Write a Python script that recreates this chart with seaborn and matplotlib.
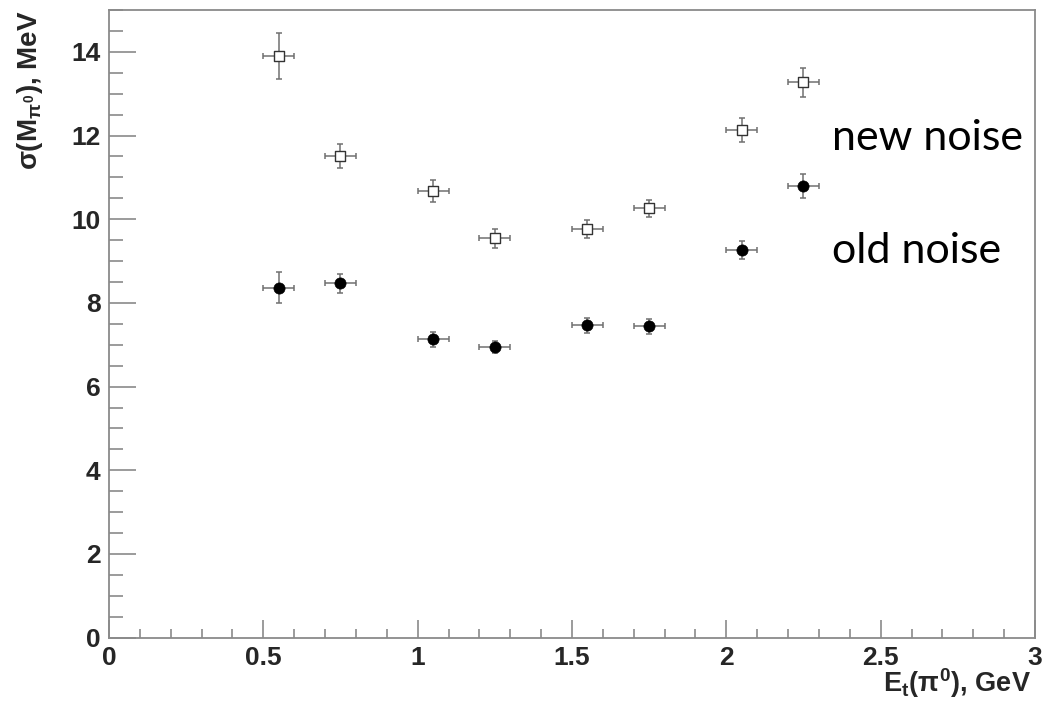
import numpy as np
import pandas as pd
import matplotlib
matplotlib.use("Agg")
import matplotlib.pyplot as plt
from matplotlib.ticker import MultipleLocator
import seaborn as sns

# Transverse energy bins of the pi0 (GeV) and half bin width
et_bins = [0.55, 0.75, 1.05, 1.25, 1.55, 1.75, 2.05, 2.25]
et_halfwidth = [0.05, 0.05, 0.05, 0.05, 0.05, 0.05, 0.05, 0.05]

# Mass resolution sigma(M_pi0) in MeV and its uncertainty
sigma_new = [13.90, 11.51, 10.68, 9.54, 9.76, 10.26, 12.13, 13.27]
sigma_new_err = [0.55, 0.29, 0.26, 0.22, 0.21, 0.21, 0.29, 0.34]
sigma_old = [8.36, 8.47, 7.13, 6.95, 7.47, 7.44, 9.26, 10.79]
sigma_old_err = [0.37, 0.23, 0.18, 0.15, 0.18, 0.18, 0.21, 0.28]

series_labels = ["new noise", "old noise"]
x_tick_labels = ["0", "0.5", "1", "1.5", "2", "2.5", "3"]
y_tick_labels = ["0", "2", "4", "6", "8", "10", "12", "14"]

sns.set_style("white")
plt.rcParams["font.family"] = ["Liberation Sans", "DejaVu Sans"]
plt.rcParams["mathtext.fontset"] = "custom"
plt.rcParams["mathtext.rm"] = "Liberation Sans:bold"
plt.rcParams["mathtext.it"] = "Liberation Sans:bold"
plt.rcParams["mathtext.bf"] = "Liberation Sans:bold"
plt.rcParams["mathtext.sf"] = "Liberation Sans:bold"

df_new = pd.DataFrame({"et": et_bins, "sigma": sigma_new})
df_old = pd.DataFrame({"et": et_bins, "sigma": sigma_old})

fig = plt.figure(figsize=(10.45, 7.04), dpi=100)
ax = fig.add_axes([0.1043, 0.0942, 0.8861, 0.8916])

bar_color = "#707070"
for yv, ye in ((sigma_new, sigma_new_err), (sigma_old, sigma_old_err)):
    ax.errorbar(et_bins, yv, xerr=et_halfwidth, yerr=ye, fmt="none",
                ecolor=bar_color, elinewidth=1.1, capsize=2.5,
                capthick=1.1, zorder=2)

sns.scatterplot(data=df_new, x="et", y="sigma", ax=ax, marker="s", s=55,
                color="white", edgecolor="#333333", linewidth=1.0,
                legend=False, zorder=3)
sns.scatterplot(data=df_old, x="et", y="sigma", ax=ax, marker="o", s=65,
                color="black", edgecolor="black", linewidth=0.5,
                legend=False, zorder=3)

ax.set_xlim(0, 3)
ax.set_ylim(0, 15)

spine_color = "#8a8a8a"
for side in ("left", "right", "top", "bottom"):
    ax.spines[side].set_visible(True)
    ax.spines[side].set_color(spine_color)
    ax.spines[side].set_linewidth(1.3)

ax.xaxis.set_major_locator(MultipleLocator(0.5))
ax.xaxis.set_minor_locator(MultipleLocator(0.1))
ax.yaxis.set_major_locator(MultipleLocator(2))
ax.yaxis.set_minor_locator(MultipleLocator(0.5))

ax.tick_params(axis="x", which="major", direction="in", length=13,
               width=1.2, color=spine_color, pad=6, labelsize=19,
               top=False, bottom=True)
ax.tick_params(axis="x", which="minor", direction="in", length=6.5,
               width=1.2, color=spine_color, top=False, bottom=True)
ax.tick_params(axis="y", which="major", direction="in", length=19.5,
               width=1.2, color=spine_color, pad=6, labelsize=19,
               left=True, right=False)
ax.tick_params(axis="y", which="minor", direction="in", length=10,
               width=1.2, color=spine_color, left=True, right=False)

ax.set_xticks([0, 0.5, 1, 1.5, 2, 2.5, 3])
ax.set_xticklabels(x_tick_labels, fontweight="bold")
ax.set_yticks([0, 2, 4, 6, 8, 10, 12, 14])
ax.set_yticklabels(y_tick_labels, fontweight="bold")

ax.set_xlabel(r"E$_{\mathregular{t}}$($\pi^{\mathregular{0}}$), GeV",
              fontsize=19.5, fontweight="bold", ha="right", va="baseline")
ax.xaxis.set_label_coords(0.996, -0.087)
ax.set_ylabel(r"$\sigma$(M$_{\pi^{\mathregular{0}}}$), MeV",
              fontsize=20, fontweight="bold", ha="right", va="baseline")
ax.yaxis.set_label_coords(-0.078, 1.0)

ax.text(2.341, 11.65, series_labels[0], fontsize=31, family=["Lato", "DejaVu Sans"],
        va="baseline", ha="left", color="black")
ax.text(2.341, 8.95, series_labels[1], fontsize=31, family=["Lato", "DejaVu Sans"],
        va="baseline", ha="left", color="black")

fig.savefig("out.png", dpi=100)
